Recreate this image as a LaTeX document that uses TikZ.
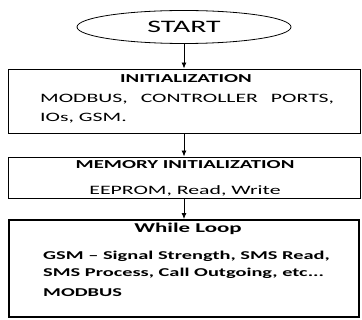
\documentclass[tikz,border=0pt]{standalone}
\usepackage{fontspec}
\setmainfont[FakeStretch=1.7]{Carlito}
\usetikzlibrary{arrows.meta,positioning,shapes.geometric}

\begin{document}
\begin{tikzpicture}[x=1pt, y=-1pt, >={Latex[length=6pt,width=5pt]},
  every node/.style={inner sep=0pt, font=\fontsize{12.8}{15}\selectfont},
  stepbox/.style={draw, line width=0.9pt, minimum width=352pt},
  headtext/.style={font=\fontsize{12.2}{15}\selectfont\bfseries, anchor=base},
  looptext/.style={font=\fontsize{12}{15}\selectfont\bfseries, anchor=base west}]
  \useasboundingbox (0,0) rectangle (362,320);
  \node[draw, ellipse, line width=0.8pt, minimum width=214pt, minimum height=33pt, font=\fontsize{17.5}{20}\selectfont] (start) at (184,27) {START};

  % initialization
  \node[stepbox, minimum height=64pt] (init) at (184,101) {};
  \node[headtext] (inithead) at (186,83) {INITIALIZATION};
  \node[anchor=base west] (initline1) at (40,103) {\hbox to 294pt{MODBUS,\hfill CONTROLLER\hfill PORTS,}};
  \node[anchor=base west] (initline2) at (40,122) {IOs, GSM.};

  % memory
  \node[stepbox, minimum height=41pt] (mem) at (184,177.5) {};
  \node[headtext] (memhead) at (185,169) {MEMORY INITIALIZATION};
  \node[anchor=base] (memline) at (185,195) {EEPROM, Read, Write};

  % main loop
  \node[stepbox, line width=1.8pt, minimum width=350pt, minimum height=97pt] (loop) at (184,268.5) {};
  \node[headtext, font=\fontsize{13.5}{16}\selectfont\bfseries] (loophead) at (188,233) {While Loop};
  \node[looptext] (loopline1) at (43,260) {GSM -- Signal Strength, SMS Read,};
  \node[looptext] (loopline2) at (43,277) {SMS Process, Call Outgoing, etc...};
  \node[looptext] (loopline3) at (43,297) {MODBUS};

  \draw[->, line width=0.9pt] (start) -- (init);
  \draw[->, line width=0.9pt] (init) -- (mem);
  \draw[->, line width=0.9pt] (mem) -- (loop);
\end{tikzpicture}
\end{document}
